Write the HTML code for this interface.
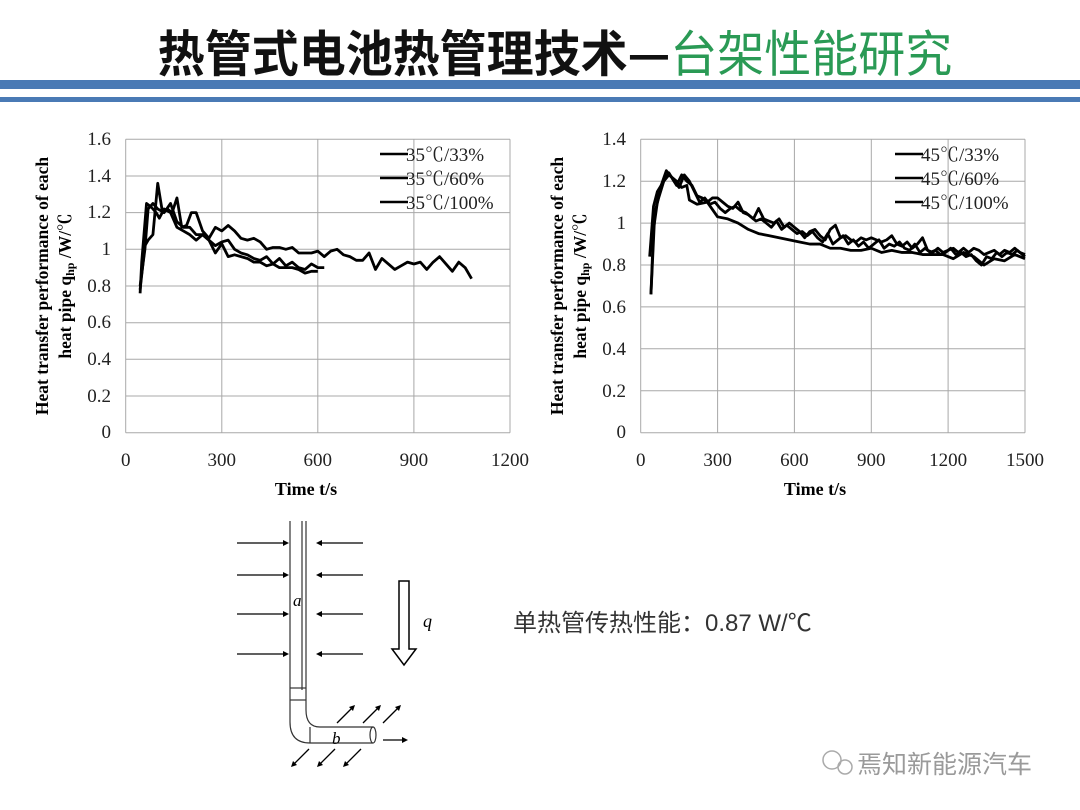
<!DOCTYPE html>
<html><head><meta charset="utf-8"><style>
body{margin:0;background:#fff;width:1080px;height:810px;overflow:hidden;position:relative;font-family:"Liberation Serif","Noto Serif CJK SC",serif}
</style></head><body>
<svg width="1080" height="810" style="position:absolute;left:0;top:0" font-family="Liberation Serif, Noto Serif CJK SC, serif">
<text x="555" y="70" text-anchor="middle" font-family="Noto Sans CJK SC, sans-serif" font-size="47" font-weight="bold" fill="#111" transform="translate(555,0) scale(1.0,1.05) translate(-555,-2)">热管式电池热管理技术—<tspan fill="#2a9a55" font-weight="normal">台架性能研究</tspan></text>
<rect x="0" y="80" width="1080" height="9" fill="#4a7ab5"/>
<rect x="0" y="97" width="1080" height="5" fill="#4a7ab5"/>

<!-- left chart -->
<g stroke="#a8a8a8" stroke-width="1">
<line x1="125.7" y1="139.3" x2="510" y2="139.3"/><line x1="125.7" y1="176" x2="510" y2="176"/><line x1="125.7" y1="212.6" x2="510" y2="212.6"/><line x1="125.7" y1="249.3" x2="510" y2="249.3"/><line x1="125.7" y1="286" x2="510" y2="286"/><line x1="125.7" y1="322.7" x2="510" y2="322.7"/><line x1="125.7" y1="359.3" x2="510" y2="359.3"/><line x1="125.7" y1="396" x2="510" y2="396"/><line x1="125.7" y1="432.7" x2="510" y2="432.7"/>
<line x1="125.7" y1="139.3" x2="125.7" y2="432.7"/><line x1="221.8" y1="139.3" x2="221.8" y2="432.7"/><line x1="317.8" y1="139.3" x2="317.8" y2="432.7"/><line x1="413.9" y1="139.3" x2="413.9" y2="432.7"/><line x1="510" y1="139.3" x2="510" y2="432.7"/>
</g>
<g font-size="19" fill="#222" text-anchor="end">
<text x="111" y="145">1.6</text><text x="111" y="182">1.4</text><text x="111" y="218">1.2</text><text x="111" y="255">1</text><text x="111" y="292">0.8</text><text x="111" y="328">0.6</text><text x="111" y="365">0.4</text><text x="111" y="402">0.2</text><text x="111" y="438">0</text>
</g>
<g font-size="19" fill="#222" text-anchor="middle">
<text x="125.7" y="466">0</text><text x="221.8" y="466">300</text><text x="317.8" y="466">600</text><text x="413.9" y="466">900</text><text x="510" y="466">1200</text>
</g>
<text x="306" y="495" font-size="18" font-weight="bold" text-anchor="middle">Time  t/s</text>
<text transform="translate(48,286) rotate(-90)" font-size="17.5" font-weight="bold" text-anchor="middle">Heat  transfer performance of each</text>
<text transform="translate(71,286) rotate(-90)" font-size="17.5" font-weight="bold" text-anchor="middle">heat pipe  q<tspan font-size="12" dy="3">hp</tspan><tspan dy="-3">  /W/℃</tspan></text>
<g transform="translate(125.7,432.7) scale(0.32025,-183.4)" fill="none" stroke="#000" stroke-width="2.8" stroke-linejoin="round">
<polyline vector-effect="non-scaling-stroke" points="45,0.78 60,1.02 70,1.05 85,1.08 100,1.36 115,1.2 130,1.22 145,1.2 160,1.28 175,1.12 190,1.13 205,1.2 220,1.2 240,1.1 260,1.06 280,1.12 300,1.1 320,1.13 340,1.1 360,1.06 380,1.05 400,1.06 420,1.04 440,1.0 460,1.01 480,1.01 500,1.0 520,1.01 540,0.98 560,0.98 580,0.98 600,0.99 620,0.96 640,0.99 660,1.0 680,0.97 700,0.96 720,0.94 740,0.94 760,0.98 780,0.89 800,0.95 820,0.92 840,0.89 860,0.91 880,0.93 900,0.92 920,0.93 940,0.89 960,0.93 980,0.96 1000,0.92 1020,0.88 1040,0.93 1060,0.9 1080,0.84"/>
<polyline vector-effect="non-scaling-stroke" points="45,0.8 60,1.0 70,1.22 85,1.25 100,1.22 120,1.2 140,1.25 160,1.15 180,1.12 200,1.12 220,1.08 240,1.08 260,1.05 280,1.02 300,1.04 320,1.05 340,1.0 360,0.98 380,0.97 400,0.95 420,0.94 440,0.96 460,0.92 480,0.95 500,0.91 520,0.93 540,0.9 560,0.89 580,0.92 600,0.9 620,0.9"/>
<polyline vector-effect="non-scaling-stroke" points="45,0.76 50,0.93 65,1.25 80,1.23 95,1.2 105,1.17 120,1.22 140,1.2 160,1.12 180,1.1 200,1.08 220,1.05 240,1.08 260,1.05 280,0.98 300,1.03 320,0.96 340,0.97 360,0.96 380,0.95 400,0.93 420,0.93 440,0.91 460,0.92 480,0.9 500,0.9 520,0.9 540,0.89 560,0.87 580,0.88 600,0.88"/>
</g>
<g stroke="#000" stroke-width="2.5"><line x1="380" y1="154" x2="408" y2="154"/><line x1="380" y1="178" x2="408" y2="178"/><line x1="380" y1="202" x2="408" y2="202"/></g>
<g font-size="19" fill="#222"><text x="406" y="161">35℃/33%</text><text x="406" y="185">35℃/60%</text><text x="406" y="209">35℃/100%</text></g>

<!-- right chart -->
<g stroke="#a8a8a8" stroke-width="1">
<line x1="640.7" y1="139.3" x2="1025" y2="139.3"/><line x1="640.7" y1="181.2" x2="1025" y2="181.2"/><line x1="640.7" y1="223.1" x2="1025" y2="223.1"/><line x1="640.7" y1="265" x2="1025" y2="265"/><line x1="640.7" y1="306.9" x2="1025" y2="306.9"/><line x1="640.7" y1="348.8" x2="1025" y2="348.8"/><line x1="640.7" y1="390.8" x2="1025" y2="390.8"/><line x1="640.7" y1="432.7" x2="1025" y2="432.7"/>
<line x1="640.7" y1="139.3" x2="640.7" y2="432.7"/><line x1="717.6" y1="139.3" x2="717.6" y2="432.7"/><line x1="794.4" y1="139.3" x2="794.4" y2="432.7"/><line x1="871.3" y1="139.3" x2="871.3" y2="432.7"/><line x1="948.1" y1="139.3" x2="948.1" y2="432.7"/><line x1="1025" y1="139.3" x2="1025" y2="432.7"/>
</g>
<g font-size="19" fill="#222" text-anchor="end">
<text x="626" y="145">1.4</text><text x="626" y="187">1.2</text><text x="626" y="229">1</text><text x="626" y="271">0.8</text><text x="626" y="313">0.6</text><text x="626" y="355">0.4</text><text x="626" y="397">0.2</text><text x="626" y="438">0</text>
</g>
<g font-size="19" fill="#222" text-anchor="middle">
<text x="640.7" y="466">0</text><text x="717.6" y="466">300</text><text x="794.4" y="466">600</text><text x="871.3" y="466">900</text><text x="948.1" y="466">1200</text><text x="1025" y="466">1500</text>
</g>
<text x="815" y="495" font-size="18" font-weight="bold" text-anchor="middle">Time  t/s</text>
<text transform="translate(563,286) rotate(-90)" font-size="17.5" font-weight="bold" text-anchor="middle">Heat  transfer performance of each</text>
<text transform="translate(586,286) rotate(-90)" font-size="17.5" font-weight="bold" text-anchor="middle">heat pipe  q<tspan font-size="12" dy="3">hp</tspan><tspan dy="-3">  /W/℃</tspan></text>
<g transform="translate(640.7,432.7) scale(0.2562,-209.6)" fill="none" stroke="#000" stroke-width="2.8" stroke-linejoin="round">
<polyline vector-effect="non-scaling-stroke" points="40,0.66 50,0.97 65,1.1 80,1.18 100,1.25 120,1.22 140,1.18 160,1.23 180,1.2 200,1.18 220,1.13 240,1.12 260,1.1 280,1.12 300,1.12 320,1.1 340,1.08 360,1.07 380,1.1 400,1.05 420,1.04 440,1.02 460,1.07 480,1.02 500,1.01 520,1.0 540,1.02 560,0.98 580,1.0 600,0.98 620,0.96 640,0.93 660,0.96 680,0.97 700,0.94 720,0.92 740,0.97 760,0.99 780,0.93 800,0.94 820,0.92 840,0.91 860,0.93 880,0.92 900,0.93 920,0.92 940,0.91 960,0.92 980,0.94 1000,0.9 1020,0.89 1040,0.91 1060,0.88 1080,0.9 1100,0.93 1120,0.87 1140,0.86 1160,0.88 1180,0.86 1200,0.87 1220,0.88 1240,0.86 1260,0.88 1280,0.86 1300,0.88 1320,0.87 1340,0.85 1360,0.86 1380,0.87 1400,0.85 1420,0.87 1440,0.86 1460,0.88 1480,0.86 1500,0.85"/>
<polyline vector-effect="non-scaling-stroke" points="40,0.66 55,1.05 70,1.12 90,1.2 110,1.24 130,1.2 150,1.17 170,1.23 190,1.2 210,1.15 230,1.1 250,1.12 270,1.09 290,1.1 310,1.07 330,1.05 350,1.07 370,1.08 390,1.06 410,1.05 430,1.03 450,1.01 470,1.02 490,1.0 510,0.98 530,1.01 550,0.97 570,0.99 590,0.97 610,0.95 630,0.96 650,0.94 670,0.96 690,0.93 710,0.91 730,0.95 750,0.9 770,0.92 790,0.94 810,0.9 830,0.92 850,0.89 870,0.91 890,0.88 910,0.9 930,0.92 950,0.88 970,0.9 990,0.89 1010,0.91 1030,0.88 1050,0.87 1070,0.9 1090,0.86 1110,0.88 1130,0.86 1150,0.87 1170,0.85 1190,0.86 1210,0.88 1230,0.85 1250,0.86 1270,0.84 1290,0.85 1310,0.82 1330,0.8 1350,0.84 1370,0.83 1390,0.86 1410,0.84 1430,0.86 1450,0.85 1470,0.87 1500,0.84"/>
<polyline vector-effect="non-scaling-stroke" points="35,0.84 50,1.08 65,1.15 90,1.2 110,1.23 140,1.2 160,1.17 180,1.18 190,1.11 220,1.09 260,1.1 300,1.03 340,1.02 380,1.0 420,0.97 460,0.95 500,0.94 540,0.93 580,0.92 620,0.91 660,0.9 700,0.9 740,0.88 780,0.88 820,0.87 860,0.87 900,0.88 940,0.86 980,0.87 1020,0.86 1060,0.86 1100,0.85 1140,0.85 1180,0.85 1220,0.83 1260,0.86 1300,0.84 1340,0.8 1380,0.83 1420,0.82 1460,0.85 1500,0.83"/>
</g>
<g stroke="#000" stroke-width="2.5"><line x1="895" y1="154" x2="923" y2="154"/><line x1="895" y1="178" x2="923" y2="178"/><line x1="895" y1="202" x2="923" y2="202"/></g>
<g font-size="19" fill="#222"><text x="921" y="161">45℃/33%</text><text x="921" y="185">45℃/60%</text><text x="921" y="209">45℃/100%</text></g>

<!-- diagram -->
<g fill="none" stroke="#333" stroke-width="1.2">
<path d="M290,521 L290,722 Q290,743 310,743 L373,743 M306,521 L306,710 Q306,727 320,727 L373,727"/>
<line x1="302" y1="521" x2="302" y2="690"/>
<line x1="290" y1="688" x2="306" y2="688"/><line x1="290" y1="700" x2="306" y2="700"/>
<ellipse cx="373" cy="735" rx="3" ry="8"/>
<line x1="310" y1="727" x2="310" y2="743"/>
<path d="M399,581 L409,581 L409,649 L416,649 L404,665 L392,649 L399,649 Z" stroke="#000" stroke-width="1.5"/>
</g>
<g stroke="#000" stroke-width="1.3">
<line x1="237" y1="543" x2="283" y2="543"/><line x1="237" y1="575" x2="283" y2="575"/><line x1="237" y1="614" x2="283" y2="614"/><line x1="237" y1="654" x2="283" y2="654"/>
<line x1="363" y1="543" x2="322" y2="543"/><line x1="363" y1="575" x2="322" y2="575"/><line x1="363" y1="614" x2="322" y2="614"/><line x1="363" y1="654" x2="322" y2="654"/>
<line x1="337" y1="723" x2="352" y2="708"/><line x1="363" y1="723" x2="378" y2="708"/><line x1="383" y1="723" x2="398" y2="708"/>
<line x1="309" y1="749" x2="294" y2="764"/><line x1="335" y1="749" x2="320" y2="764"/><line x1="361" y1="749" x2="346" y2="764"/>
<line x1="383" y1="740" x2="403" y2="740"/>
</g>
<g fill="#000">
<polygon points="283,540 289,543 283,546"/><polygon points="283,572 289,575 283,578"/><polygon points="283,611 289,614 283,617"/><polygon points="283,651 289,654 283,657"/>
<polygon points="322,540 316,543 322,546"/><polygon points="322,572 316,575 322,578"/><polygon points="322,611 316,614 322,617"/><polygon points="322,651 316,654 322,657"/>
<polygon points="355,705 349,707 353,711"/><polygon points="381,705 375,707 379,711"/><polygon points="401,705 395,707 399,711"/>
<polygon points="291,767 293,761 297,765"/><polygon points="317,767 319,761 323,765"/><polygon points="343,767 345,761 349,765"/>
<polygon points="408,740 402,737 402,743"/>
</g>
<text x="293" y="606" font-size="17" font-style="italic">a</text>
<text x="332" y="744" font-size="17" font-style="italic">b</text>
<text x="423" y="627" font-size="18" font-style="italic">q</text>
<text x="513" y="631" font-family="Liberation Sans, Noto Sans CJK SC, sans-serif" font-size="24" fill="#333">单热管传热性能：0.87 W/℃</text>
<text x="857" y="773" font-family="Noto Sans CJK SC, sans-serif" font-size="25" fill="#9a9a9a">焉知新能源汽车</text>
<circle cx="832" cy="760" r="9" fill="none" stroke="#aaa" stroke-width="1.5"/><circle cx="845" cy="767" r="7" fill="none" stroke="#aaa" stroke-width="1.5"/>
</svg>
</body></html>
